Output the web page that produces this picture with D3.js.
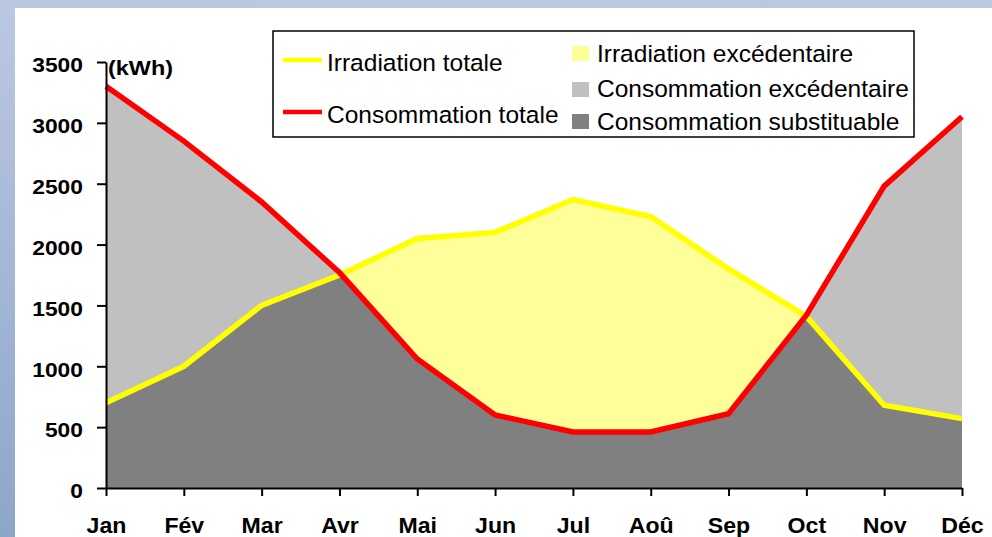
<!DOCTYPE html>
<html>
<head>
<meta charset="utf-8">
<script src="https://cdn.jsdelivr.net/npm/d3@7"></script>
<style>
  body { margin: 0; background: #fff; }
  svg { display: block; font-family: "Liberation Sans", Arial, sans-serif; }
</style>
</head>
<body>
<svg id="chart" width="992" height="537"></svg>
<script>
const months = ["Jan", "Fév", "Mar", "Avr", "Mai", "Jun", "Jul", "Aoû", "Sep", "Oct", "Nov", "Déc"];
// kWh per month
const irradiation = [700, 1000, 1500, 1750, 2050, 2100, 2370, 2230, 1800, 1410, 680, 570];
const consommation = [3300, 2850, 2350, 1770, 1060, 600, 460, 460, 610, 1420, 2480, 3050];
const yTicks = [0, 500, 1000, 1500, 2000, 2500, 3000, 3500];

const colors = {
  irrLine: "#ffff00",
  consLine: "#ff0000",
  excIrr: "#ffff99",
  excCons: "#c0c0c0",
  subst: "#808080"
};

const svg = d3.select("#chart");

// slide background
const defs = svg.append("defs");
const grad = defs.append("linearGradient")
  .attr("id", "bg")
  .attr("x1", 0).attr("y1", 0).attr("x2", 0).attr("y2", 1);
grad.append("stop").attr("offset", "0%").attr("stop-color", "#bcc8e2");
grad.append("stop").attr("offset", "100%").attr("stop-color", "#8ca6ca");

svg.append("rect").attr("width", 992).attr("height", 537).attr("fill", "url(#bg)");
svg.append("rect").attr("x", 15).attr("y", 8).attr("width", 977).attr("height", 529).attr("fill", "#fff");

const x = d3.scalePoint().domain(months).range([106, 962]);
const y = d3.scaleLinear().domain([0, 3500]).range([488, 62]);

// stacked parts: substituable = min, then the two excesses
const rows = months.map(function (m, i) {
  return {
    month: m,
    subst: Math.min(irradiation[i], consommation[i]),
    excCons: Math.max(0, consommation[i] - irradiation[i]),
    excIrr: Math.max(0, irradiation[i] - consommation[i])
  };
});

const keys = ["subst", "excCons", "excIrr"];
const series = d3.stack().keys(keys)(rows);

const area = d3.area()
  .x(function (d) { return x(d.data.month); })
  .y0(function (d) { return y(d[0]); })
  .y1(function (d) { return y(d[1]); });

svg.append("g")
  .selectAll("path")
  .data(series)
  .enter()
  .append("path")
  .attr("d", area)
  .attr("fill", function (d) { return colors[d.key]; });

const line = d3.line()
  .x(function (d, i) { return x(months[i]); })
  .y(function (d) { return y(d); });

svg.append("path")
  .attr("d", line(irradiation))
  .attr("fill", "none")
  .attr("stroke", colors.irrLine)
  .attr("stroke-width", 5.5);

svg.append("path")
  .attr("d", line(consommation))
  .attr("fill", "none")
  .attr("stroke", colors.consLine)
  .attr("stroke-width", 5.5);

function stretch(sel, k) {
  sel.each(function () {
    const w = this.getComputedTextLength();
    this.setAttribute("textLength", w * k);
    this.setAttribute("lengthAdjust", "spacingAndGlyphs");
  });
}

// y axis
const yAxis = svg.append("g")
  .attr("transform", "translate(106,0)")
  .call(d3.axisLeft(y).tickValues(yTicks).tickFormat(d3.format("d"))
    .tickSize(9).tickSizeOuter(0).tickPadding(14));
yAxis.select(".domain").attr("stroke", "#000").attr("stroke-width", 2);
yAxis.selectAll(".tick line").attr("stroke", "#000").attr("stroke-width", 2);
yAxis.selectAll(".tick text")
  .attr("fill", "#000")
  .attr("font-family", "Liberation Sans, Arial, sans-serif")
  .attr("font-size", 19.5)
  .attr("font-weight", "bold")
  .attr("dy", "0.5em")
  .call(stretch, 1.17);

svg.append("text")
  .attr("x", 108)
  .attr("y", 75)
  .attr("font-size", 19.5)
  .attr("font-weight", "bold")
  .text("(kWh)")
  .call(stretch, 1.2);

// x axis
const xAxis = svg.append("g")
  .attr("transform", "translate(0,488)")
  .call(d3.axisBottom(x).tickSize(8).tickSizeOuter(0).tickPadding(21));
xAxis.select(".domain").attr("stroke", "#000").attr("stroke-width", 2);
xAxis.selectAll(".tick line").attr("stroke", "#000").attr("stroke-width", 2);
xAxis.selectAll(".tick text")
  .attr("fill", "#000")
  .attr("font-family", "Liberation Sans, Arial, sans-serif")
  .attr("font-size", 22)
  .attr("font-weight", "bold")
  .attr("dy", "0.71em")
  .call(stretch, 1.05);

// legend
const legend = svg.append("g");
legend.append("rect")
  .attr("x", 273).attr("y", 31)
  .attr("width", 641).attr("height", 106)
  .attr("fill", "#fff")
  .attr("stroke", "#000")
  .attr("stroke-width", 1.5);

const lineItems = [
  { label: "Irradiation totale", color: colors.irrLine, y: 60, base: 71 },
  { label: "Consommation totale", color: colors.consLine, y: 112, base: 123 }
];
const swatchItems = [
  { label: "Irradiation excédentaire", color: colors.excIrr, y: 46, base: 62 },
  { label: "Consommation excédentaire", color: colors.excCons, y: 82, base: 97 },
  { label: "Consommation substituable", color: colors.subst, y: 114, base: 130 }
];

lineItems.forEach(function (d) {
  legend.append("line")
    .attr("x1", 283).attr("x2", 322)
    .attr("y1", d.y).attr("y2", d.y)
    .attr("stroke", d.color)
    .attr("stroke-width", 4.5);
  legend.append("text")
    .attr("x", 327).attr("y", d.base)
    .attr("font-size", 24.5)
    .attr("fill", "#000")
    .text(d.label);
});

swatchItems.forEach(function (d) {
  legend.append("rect")
    .attr("x", 572).attr("y", d.y)
    .attr("width", 17).attr("height", 15)
    .attr("fill", d.color);
  legend.append("text")
    .attr("x", 597).attr("y", d.base)
    .attr("font-size", 24.5)
    .attr("fill", "#000")
    .text(d.label);
});
</script>
</body>
</html>
